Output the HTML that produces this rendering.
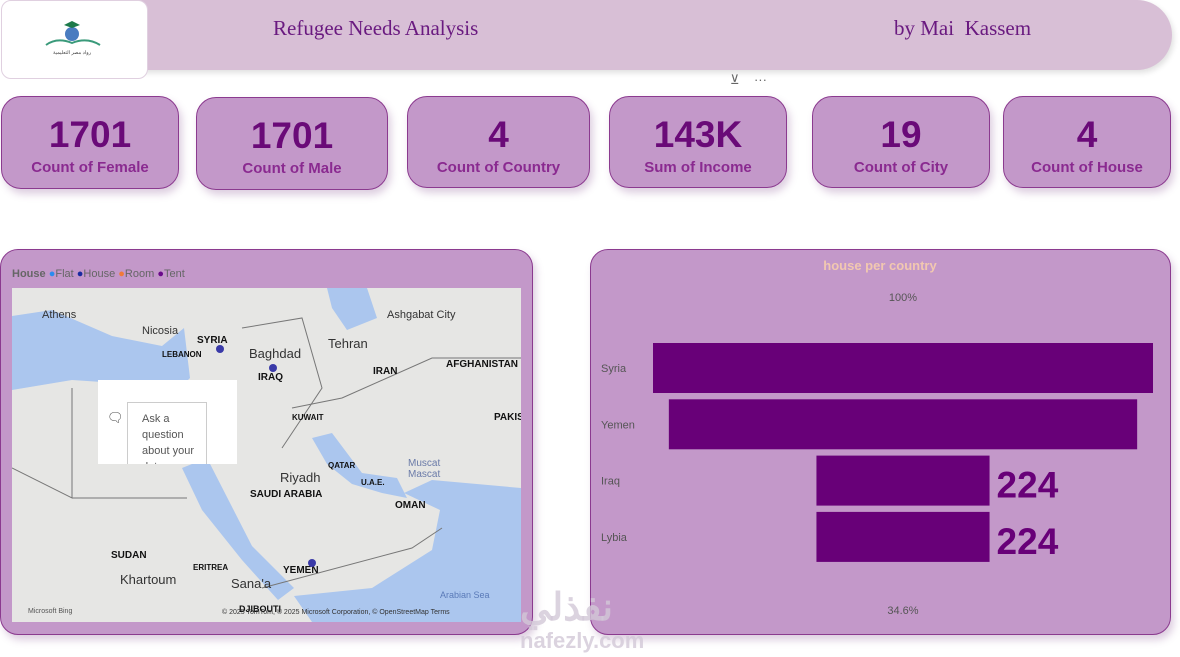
<!DOCTYPE html>
<html><head><meta charset="utf-8"><style>
body{margin:0;width:1180px;height:657px;background:#fff;position:relative;overflow:hidden;font-family:"Liberation Sans",sans-serif}
.abs{position:absolute}
.card{position:absolute;background:#c398c9;border:1px solid #8b3a8f;border-radius:20px;box-shadow:3px 5px 8px rgba(120,60,130,.25);text-align:center}
.card .v{font-weight:bold;font-size:37px;color:#6a0a78;margin-top:18px;line-height:40px}
.card .l{font-weight:bold;font-size:15px;color:#8a2a90;margin-top:4px}
.panel{position:absolute;background:#c398c9;border:1px solid #8b3a8f;border-radius:18px;box-shadow:3px 5px 8px rgba(120,60,130,.25)}
</style></head><body>
<div class="abs" style="left:120px;top:0;width:1052px;height:70px;background:#d8bfd6;border-radius:0 35px 35px 0;box-shadow:2px 3px 6px rgba(0,0,0,.12)"></div>
<div class="abs" style="left:1px;top:0;width:145px;height:77px;background:#fff;border:1px solid #e0d0e0;border-radius:10px">
 <svg width="145" height="77"><circle cx="70" cy="33" r="7" fill="#4a7cc0"/><path d="M62 24 L70 20 L78 24 L70 27Z" fill="#1d7a4a"/><path d="M44 44 Q55 36 70 42 Q85 36 98 44" stroke="#3a9a7a" fill="none" stroke-width="2"/><text x="70" y="53" font-size="5" text-anchor="middle" fill="#444">رواد مصر التعليمية</text></svg>
</div>
<div class="abs" style="left:273px;top:16px;font-family:'Liberation Serif',serif;font-size:21px;color:#6a1a80">Refugee Needs Analysis</div>
<div class="abs" style="left:894px;top:16px;font-family:'Liberation Serif',serif;font-size:21px;color:#6a1a80">by Mai&nbsp; Kassem</div>
<div class="abs" style="left:730px;top:72px;font-size:13px;color:#666">⊻&nbsp;&nbsp;&nbsp;&nbsp;···</div>

<div class="card" style="left:1px;top:96px;width:176px;height:91px"><div class="v">1701</div><div class="l">Count of Female</div></div>
<div class="card" style="left:196px;top:97px;width:190px;height:91px"><div class="v">1701</div><div class="l">Count of Male</div></div>
<div class="card" style="left:407px;top:96px;width:181px;height:90px"><div class="v">4</div><div class="l">Count of Country</div></div>
<div class="card" style="left:609px;top:96px;width:176px;height:90px"><div class="v">143K</div><div class="l">Sum of Income</div></div>
<div class="card" style="left:812px;top:96px;width:176px;height:90px"><div class="v">19</div><div class="l">Count of City</div></div>
<div class="card" style="left:1003px;top:96px;width:166px;height:90px"><div class="v">4</div><div class="l">Count of House</div></div>

<div class="panel" style="left:0;top:249px;width:531px;height:384px"></div>
<div class="abs" style="left:12px;top:268px;font-size:11px;color:#666"><b>House</b> <span style="color:#2a8cf0">●</span>Flat <span style="color:#1a2aa0">●</span>House <span style="color:#f07a3a">●</span>Room <span style="color:#6a0a8a">●</span>Tent</div>
<svg class="abs" style="left:12px;top:288px" width="509" height="334" font-family="Liberation Sans">
<rect width="509" height="334" fill="#e6e6e4"/>
<path d="M0 28 L40 22 L100 48 L150 58 L172 40 L178 90 L168 100 L120 96 L60 92 L0 102Z" fill="#abc6ee"/>
<path d="M315 0 L355 0 L365 30 L335 42 L320 20Z" fill="#abc6ee"/>
<path d="M170 180 L195 170 L240 258 L282 300 L266 312 L230 272 L190 222Z" fill="#abc6ee"/>
<path d="M300 150 L320 145 L350 185 L385 190 L395 210 L370 205 L340 196 L315 176Z" fill="#abc6ee"/>
<path d="M392 205 L420 192 L509 200 L509 334 L300 334 L282 308 L360 300 L420 262 L428 222Z" fill="#abc6ee"/>
<g stroke="#777" fill="none" stroke-width="1"><path d="M60 100 L60 210 L0 180"/><path d="M60 210 L175 210"/><path d="M230 40 L290 30 L310 100 L270 160"/><path d="M280 120 L330 110 L420 70 L509 70"/><path d="M250 300 L400 260 L430 240"/></g>
<g font-size="11" fill="#333"><text x="30" y="30">Athens</text><text x="130" y="46">Nicosia</text><text x="237" y="70" font-size="13">Baghdad</text><text x="316" y="60" font-size="13">Tehran</text><text x="375" y="30">Ashgabat City</text><text x="268" y="194" font-size="13">Riyadh</text><text x="108" y="296" font-size="13">Khartoum</text><text x="219" y="300" font-size="13">Sana'a</text><text x="396" y="178" fill="#6a7aa8" font-size="10">Muscat</text><text x="396" y="189" fill="#6a7aa8" font-size="10">Mascat</text><text x="428" y="310" fill="#5a7ab8" font-size="9">Arabian Sea</text></g>
<g font-size="10" font-weight="bold" fill="#111"><text x="185" y="55">SYRIA</text><text x="150" y="69" font-size="8">LEBANON</text><text x="246" y="92">IRAQ</text><text x="361" y="86">IRAN</text><text x="434" y="79">AFGHANISTAN</text><text x="482" y="132">PAKIS</text><text x="280" y="132" font-size="8">KUWAIT</text><text x="316" y="180" font-size="8">QATAR</text><text x="349" y="197" font-size="8">U.A.E.</text><text x="238" y="209">SAUDI ARABIA</text><text x="383" y="220">OMAN</text><text x="99" y="270">SUDAN</text><text x="181" y="282" font-size="8">ERITREA</text><text x="271" y="285">YEMEN</text><text x="227" y="324" font-size="9">DJIBOUTI</text></g>
<g><circle cx="208" cy="61" r="4" fill="#3a3aa8"/><circle cx="261" cy="80" r="4" fill="#3a3aa8"/><circle cx="300" cy="275" r="4" fill="#3a3aa8"/></g>
<text x="16" y="325" font-size="7" fill="#555">Microsoft Bing</text>
<text x="210" y="326" font-size="7" fill="#333">© 2025 TomTom, © 2025 Microsoft Corporation, © OpenStreetMap  Terms</text>
</svg>
<div class="abs" style="left:98px;top:380px;width:139px;height:84px;background:#fff;font-size:11px;color:#555">
 <div style="position:absolute;left:9px;top:30px;font-size:13px">🗨</div>
 <div style="position:absolute;left:29px;top:22px;width:80px;height:62px;border:1px solid #ccc;border-bottom:none;padding:8px 0 0 14px;box-sizing:border-box;line-height:16px;overflow:hidden">Ask a question about your data</div>
</div>

<div class="panel" style="left:590px;top:249px;width:579px;height:384px"></div>
<div class="abs" style="left:590px;top:258px;width:580px;text-align:center;font-size:13px;font-weight:bold;color:#f2c8b0">house per country</div>
<svg class="abs" id="funnel" style="left:590px;top:280px" width="580" height="350" font-family="Liberation Sans"></svg>
<div class="abs" style="left:520px;top:585px;font-size:38px;font-weight:bold;color:rgba(210,200,215,.8)">نفذلي</div>
<div class="abs" style="left:520px;top:628px;font-size:22px;font-weight:bold;color:rgba(210,200,215,.8)">nafezly.com</div>
<script>
const categories=["Syria","Yemen","Iraq","Lybia"];
const values=[647,606,224,224];
const labelsShown=["","","224","224"];
const svg=document.getElementById('funnel');
const NS="http://www.w3.org/2000/svg";
const cx=313, maxW=500, top0=63, step=56.3, bh=50;
const maxV=Math.max(...values);
function w(v){return v/maxV*maxW;}
function mk(t,a){const e=document.createElementNS(NS,t);for(const k in a)e.setAttribute(k,a[k]);svg.appendChild(e);return e;}
let t=mk('text',{x:cx,y:21,'font-size':11,fill:'#555','text-anchor':'middle'});t.textContent="100%";


categories.forEach((c,i)=>{
 const y=top0+i*step, ww=w(values[i]);
 const r=mk('rect',{x:cx-ww/2,y:y,width:ww,height:bh,fill:'#680078'});
 
 
 const l=mk('text',{x:11,y:y+29,'font-size':11,fill:'#555'});l.textContent=c;
 
 
 if(labelsShown[i]){const v=mk('text',{x:cx+ww/2+7,y:y+42,'font-size':37,'font-weight':'bold',fill:'#680078'});v.textContent=labelsShown[i];
 
 }
});
const pct=(values[values.length-1]/values[0]*100).toFixed(1)+"%";
t=mk('text',{x:cx,y:334,'font-size':11,fill:'#555','text-anchor':'middle'});t.textContent=pct;


</script>
</body></html>
